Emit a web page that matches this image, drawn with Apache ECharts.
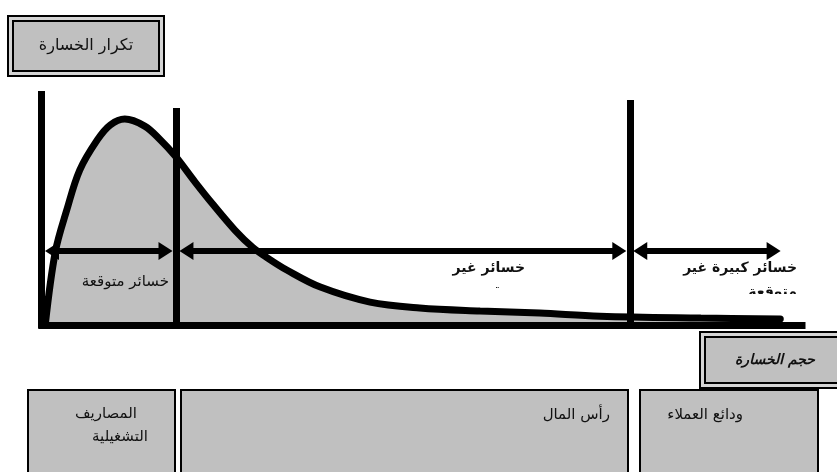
<!DOCTYPE html>
<html>
<head>
<meta charset="utf-8">
<script src="https://cdn.jsdelivr.net/npm/echarts@6/dist/echarts.min.js"></script>
<style>
  html, body { margin: 0; padding: 0; background: #fff; }
  #chart { width: 837px; height: 472px; }
</style>
</head>
<body>
<div id="chart"></div>
<script>
// loss distribution curve (x = loss size, y = frequency), both on a 0-100 scale
const lossX    = [0.5, 1.8, 3.3, 5.0, 7.3, 9.0, 10.9, 13.5, 15.5, 17.5, 20.1, 22.4, 25.3, 27.6, 29.6, 32.1, 36.5, 43.0, 49.5, 57.4, 65.2, 73.1, 86.3, 96.7];
const lossFreq = [0.5, 31.2, 49.1, 66.2, 79.1, 85.5, 88.0, 85.0, 79.3, 72.2, 61.1, 51.7, 40.6, 33.3, 28.6, 23.5, 16.2, 9.8, 7.3, 6.0, 5.1, 3.8, 3.0, 2.6];

// zone boundaries on the loss axis and height of each boundary line
const zoneBounds = [0, 17.6, 77.0, 97.2];
const boundTops = [100, 92.7, 96.2];
const arrowLevel = 31.6;

const zoneLabels = ['خسائر متوقعة', 'خسائر غير\nمتوقعة', 'خسائر كبيرة غير\nمتوقعة'];
const fundingLabels = ['المصاريف', 'التشغيلية', 'رأس المال', 'ودائع العملاء'];
const freqTitle = 'تكرار الخسارة';
const sizeTitle = 'حجم الخسارة';

const FONT = '"DejaVu Sans", "Liberation Sans", sans-serif';
const GRAY = '#c0c0c0';

const chart = echarts.init(document.getElementById('chart'));

// vertical boundary lines + base line
const boundLines = boundTops.map((top, i) => [
  { coord: [zoneBounds[i], -1.5] },
  { coord: [zoneBounds[i], top] }
]);
boundLines.push([{ coord: [-0.4, 0] }, { coord: [100, 0] }]);

// double-headed arrows between the boundaries
const gap = 0.45;   // half of the boundary line
const head = 0.92;  // half of the arrow head
const arrowLines = [];
for (let i = 0; i < 3; i++) {
  arrowLines.push([
    { coord: [zoneBounds[i] + gap + head, arrowLevel], symbol: 'triangle', symbolSize: [18, 14] },
    { coord: [zoneBounds[i + 1] - gap - head, arrowLevel], symbol: 'triangle', symbolSize: [18, 14] }
  ]);
}

// box with a double border
const doubleBox = (x, y, w, h, text, font) => ({
  type: 'group',
  z: 50,
  children: [
    { type: 'rect', shape: { x: x, y: y, width: w, height: h }, style: { fill: '#d4d4d4', stroke: '#000', lineWidth: 2 } },
    { type: 'rect', shape: { x: x + 5, y: y + 5, width: w - 10, height: h - 10 }, style: { fill: GRAY, stroke: '#000', lineWidth: 2 } },
    { type: 'text', style: { text: text, x: x + w / 2, y: y + h / 2, font: font, fill: '#111', align: 'center', verticalAlign: 'middle', textAlign: 'center', textVerticalAlign: 'middle' } }
  ]
});

const plainBox = (x, y, w, h) => ({
  type: 'rect', z: 50,
  shape: { x: x, y: y, width: w, height: h },
  style: { fill: GRAY, stroke: '#000', lineWidth: 2 }
});

const label = (text, x, y, font, extra) => ({
  type: 'text', z: 60,
  style: Object.assign({ text: text, x: x, y: y, font: font, fill: '#111', align: 'right', verticalAlign: 'middle', textAlign: 'right', textVerticalAlign: 'middle' }, extra || {})
});

const mask = (x, y, w, h) => ({
  type: 'rect', z: 70,
  shape: { x: x, y: y, width: w, height: h },
  style: { fill: '#fff' }
});

const option = {
  animation: false,
  backgroundColor: '#fff',
  // 7.64 px per x unit, 2.34 px per y unit; x = 0 at 41.5 px, y = 0 at 325 px
  grid: { left: 33.9, top: 91, width: 771.6, height: 238.7 },
  xAxis: { type: 'value', min: -1, max: 100, show: false },
  yAxis: { type: 'value', min: -2, max: 100, show: false },
  series: [
    {
      type: 'line',
      data: lossX.map((x, i) => [x, lossFreq[i]]),
      smooth: 0.35,
      symbol: 'none',
      lineStyle: { color: '#000', width: 7, cap: 'round' },
      areaStyle: { color: GRAY, opacity: 1, origin: 0 },
      z: 2
    },
    {
      type: 'line',
      data: [],
      z: 3,
      markLine: {
        silent: true,
        symbol: 'none',
        label: { show: false },
        lineStyle: { color: '#000', width: 7, type: 'solid' },
        data: boundLines
      }
    },
    {
      type: 'line',
      data: [],
      z: 4,
      markLine: {
        silent: true,
        symbol: ['triangle', 'triangle'],
        symbolSize: [18, 14],
        label: { show: false },
        lineStyle: { color: '#000', width: 6, type: 'solid' },
        itemStyle: { color: '#000' },
        data: arrowLines
      }
    }
  ],
  graphic: [
    doubleBox(8, 16, 156, 60, freqTitle, '16px ' + FONT),
    doubleBox(700, 332, 150, 56, sizeTitle, 'italic bold 14px ' + FONT),

    plainBox(28, 390, 147, 100),
    plainBox(181, 390, 447, 100),
    plainBox(640, 390, 178, 100),
    label(fundingLabels[0], 137, 414, '15px ' + FONT),
    label(fundingLabels[1], 148, 437, '15px ' + FONT),
    label(fundingLabels[2], 610, 415, '15px ' + FONT),
    label(fundingLabels[3], 743, 415, '15px ' + FONT),

    label(zoneLabels[0], 169, 282, '15px ' + FONT),
    label(zoneLabels[1], 525, 280, 'bold 14px ' + FONT, { lineHeight: 24 }),
    label(zoneLabels[2], 797, 280, 'bold 14px ' + FONT, { lineHeight: 24 }),
    mask(430, 288, 110, 14),
    mask(660, 294, 150, 12)
  ]
};

chart.setOption(option);
window.addEventListener('resize', () => chart.resize());
</script>
</body>
</html>
